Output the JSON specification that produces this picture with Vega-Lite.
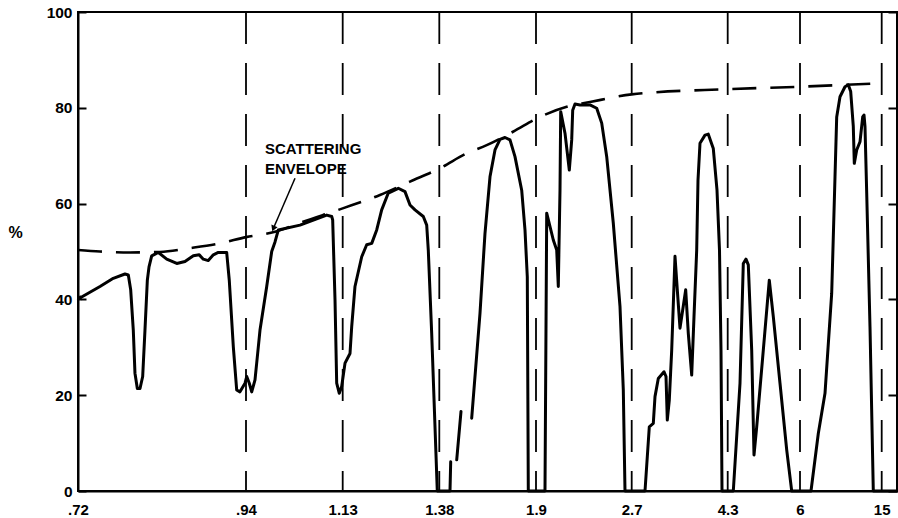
{
  "$schema": "https://vega.github.io/schema/vega-lite/v6.json",
  "width": 819,
  "height": 479,
  "autosize": {"type": "none"},
  "padding": {"left": 78, "top": 12, "right": 1, "bottom": 27},
  "background": "white",
  "config": {
    "view": {"stroke": "black", "strokeWidth": 2},
    "font": "Liberation Sans",
    "axis": {"labelFont": "Liberation Sans", "labelFontWeight": "bold", "labelColor": "black", "domainColor": "black", "domainWidth": 2, "tickColor": "black", "tickWidth": 2, "grid": false, "titleColor": "black"}
  },
  "datasets": {
    "curve": [
      {"lam": 0.7213, "pct": 40.2, "seg": "a"},
      {"lam": 0.7488, "pct": 42.7, "seg": "a"},
      {"lam": 0.7662, "pct": 44.4, "seg": "a"},
      {"lam": 0.7815, "pct": 45.3, "seg": "a"},
      {"lam": 0.7859, "pct": 45.1, "seg": "a"},
      {"lam": 0.789, "pct": 42.0, "seg": "a"},
      {"lam": 0.7924, "pct": 33.6, "seg": "a"},
      {"lam": 0.7946, "pct": 24.6, "seg": "a"},
      {"lam": 0.7977, "pct": 21.4, "seg": "a"},
      {"lam": 0.8012, "pct": 21.4, "seg": "a"},
      {"lam": 0.8047, "pct": 23.9, "seg": "a"},
      {"lam": 0.8077, "pct": 33.6, "seg": "a"},
      {"lam": 0.8108, "pct": 44.0, "seg": "a"},
      {"lam": 0.813, "pct": 46.8, "seg": "a"},
      {"lam": 0.8165, "pct": 49.1, "seg": "a"},
      {"lam": 0.8252, "pct": 49.8, "seg": "a"},
      {"lam": 0.8362, "pct": 48.4, "seg": "a"},
      {"lam": 0.8493, "pct": 47.5, "seg": "a"},
      {"lam": 0.8601, "pct": 47.9, "seg": "a"},
      {"lam": 0.871, "pct": 49.1, "seg": "a"},
      {"lam": 0.8788, "pct": 49.3, "seg": "a"},
      {"lam": 0.8841, "pct": 48.4, "seg": "a"},
      {"lam": 0.8906, "pct": 48.1, "seg": "a"},
      {"lam": 0.8972, "pct": 49.3, "seg": "a"},
      {"lam": 0.9037, "pct": 49.8, "seg": "a"},
      {"lam": 0.9147, "pct": 49.8, "seg": "a"},
      {"lam": 0.9181, "pct": 44.0, "seg": "a"},
      {"lam": 0.9234, "pct": 30.1, "seg": "a"},
      {"lam": 0.9278, "pct": 21.1, "seg": "a"},
      {"lam": 0.9321, "pct": 20.7, "seg": "a"},
      {"lam": 0.9387, "pct": 22.5, "seg": "a"},
      {"lam": 0.9414, "pct": 23.9, "seg": "a"},
      {"lam": 0.9465, "pct": 22.5, "seg": "a"},
      {"lam": 0.9512, "pct": 20.7, "seg": "a"},
      {"lam": 0.9577, "pct": 23.2, "seg": "a"},
      {"lam": 0.9675, "pct": 33.6, "seg": "a"},
      {"lam": 0.9807, "pct": 42.7, "seg": "a"},
      {"lam": 0.9905, "pct": 50.0, "seg": "a"},
      {"lam": 0.997, "pct": 52.0, "seg": "a"},
      {"lam": 1.0035, "pct": 54.5, "seg": "a"},
      {"lam": 1.0461, "pct": 55.5, "seg": "a"},
      {"lam": 1.0986, "pct": 57.6, "seg": "a"},
      {"lam": 1.1084, "pct": 57.3, "seg": "a"},
      {"lam": 1.1103, "pct": 56.6, "seg": "a"},
      {"lam": 1.1149, "pct": 39.9, "seg": "a"},
      {"lam": 1.1182, "pct": 22.5, "seg": "a"},
      {"lam": 1.1233, "pct": 20.4, "seg": "a"},
      {"lam": 1.128, "pct": 21.8, "seg": "a"},
      {"lam": 1.136, "pct": 26.7, "seg": "a"},
      {"lam": 1.1489, "pct": 28.7, "seg": "a"},
      {"lam": 1.1533, "pct": 34.3, "seg": "a"},
      {"lam": 1.1618, "pct": 42.7, "seg": "a"},
      {"lam": 1.1792, "pct": 48.9, "seg": "a"},
      {"lam": 1.1921, "pct": 51.4, "seg": "a"},
      {"lam": 1.2051, "pct": 51.7, "seg": "a"},
      {"lam": 1.218, "pct": 54.5, "seg": "a"},
      {"lam": 1.2309, "pct": 58.7, "seg": "a"},
      {"lam": 1.248, "pct": 62.2, "seg": "a"},
      {"lam": 1.2739, "pct": 63.2, "seg": "a"},
      {"lam": 1.2912, "pct": 62.5, "seg": "a"},
      {"lam": 1.3042, "pct": 59.7, "seg": "a"},
      {"lam": 1.3171, "pct": 58.7, "seg": "a"},
      {"lam": 1.3386, "pct": 57.3, "seg": "a"},
      {"lam": 1.3474, "pct": 55.5, "seg": "a"},
      {"lam": 1.3515, "pct": 50.3, "seg": "a"},
      {"lam": 1.3603, "pct": 32.9, "seg": "a"},
      {"lam": 1.3748, "pct": 0, "seg": "a"},
      {"lam": 1.4375, "pct": 0, "seg": "a"},
      {"lam": 1.4413, "pct": 6.1, "seg": "a"},
      {"lam": 1.4736, "pct": 6.5, "seg": "b"},
      {"lam": 1.4967, "pct": 16.6, "seg": "b"},
      {"lam": 1.5542, "pct": 15.2, "seg": "c"},
      {"lam": 1.5988, "pct": 37.1, "seg": "c"},
      {"lam": 1.6257, "pct": 53.8, "seg": "c"},
      {"lam": 1.6526, "pct": 65.6, "seg": "c"},
      {"lam": 1.6795, "pct": 71.2, "seg": "c"},
      {"lam": 1.7064, "pct": 73.4, "seg": "c"},
      {"lam": 1.7333, "pct": 73.8, "seg": "c"},
      {"lam": 1.7602, "pct": 73.3, "seg": "c"},
      {"lam": 1.787, "pct": 69.8, "seg": "c"},
      {"lam": 1.8231, "pct": 62.8, "seg": "c"},
      {"lam": 1.8408, "pct": 54.5, "seg": "c"},
      {"lam": 1.8532, "pct": 44.7, "seg": "c"},
      {"lam": 1.8586, "pct": 0, "seg": "c"},
      {"lam": 1.9752, "pct": 0, "seg": "c"},
      {"lam": 1.9895, "pct": 58.0, "seg": "c"},
      {"lam": 2.0446, "pct": 52.4, "seg": "c"},
      {"lam": 2.0731, "pct": 50.3, "seg": "c"},
      {"lam": 2.0864, "pct": 42.7, "seg": "c"},
      {"lam": 2.1006, "pct": 62.8, "seg": "c"},
      {"lam": 2.1065, "pct": 79.2, "seg": "c"},
      {"lam": 2.1424, "pct": 74.7, "seg": "c"},
      {"lam": 2.1784, "pct": 67.0, "seg": "c"},
      {"lam": 2.1985, "pct": 73.3, "seg": "c"},
      {"lam": 2.2068, "pct": 79.5, "seg": "c"},
      {"lam": 2.226, "pct": 80.8, "seg": "c"},
      {"lam": 2.2678, "pct": 80.6, "seg": "c"},
      {"lam": 2.3514, "pct": 80.6, "seg": "c"},
      {"lam": 2.4075, "pct": 79.9, "seg": "c"},
      {"lam": 2.4493, "pct": 76.8, "seg": "c"},
      {"lam": 2.4911, "pct": 69.8, "seg": "c"},
      {"lam": 2.5462, "pct": 55.9, "seg": "c"},
      {"lam": 2.6022, "pct": 38.5, "seg": "c"},
      {"lam": 2.6298, "pct": 21.1, "seg": "c"},
      {"lam": 2.644, "pct": 0, "seg": "c"},
      {"lam": 2.9217, "pct": 0, "seg": "c"},
      {"lam": 2.9933, "pct": 13.4, "seg": "c"},
      {"lam": 3.06, "pct": 14.1, "seg": "c"},
      {"lam": 3.0883, "pct": 19.7, "seg": "c"},
      {"lam": 3.1433, "pct": 23.5, "seg": "c"},
      {"lam": 3.2383, "pct": 24.9, "seg": "c"},
      {"lam": 3.2717, "pct": 23.9, "seg": "c"},
      {"lam": 3.2933, "pct": 14.8, "seg": "c"},
      {"lam": 3.3267, "pct": 19.0, "seg": "c"},
      {"lam": 3.3667, "pct": 29.4, "seg": "c"},
      {"lam": 3.4217, "pct": 49.0, "seg": "c"},
      {"lam": 3.46, "pct": 42.0, "seg": "c"},
      {"lam": 3.505, "pct": 34.0, "seg": "c"},
      {"lam": 3.55, "pct": 37.8, "seg": "c"},
      {"lam": 3.6, "pct": 42.0, "seg": "c"},
      {"lam": 3.6433, "pct": 32.9, "seg": "c"},
      {"lam": 3.7, "pct": 24.2, "seg": "c"},
      {"lam": 3.7383, "pct": 36.4, "seg": "c"},
      {"lam": 3.7833, "pct": 50.3, "seg": "c"},
      {"lam": 3.805, "pct": 64.9, "seg": "c"},
      {"lam": 3.8383, "pct": 72.6, "seg": "c"},
      {"lam": 3.9217, "pct": 74.3, "seg": "c"},
      {"lam": 3.9767, "pct": 74.5, "seg": "c"},
      {"lam": 4.06, "pct": 71.5, "seg": "c"},
      {"lam": 4.1217, "pct": 62.8, "seg": "c"},
      {"lam": 4.1633, "pct": 50.3, "seg": "c"},
      {"lam": 4.1883, "pct": 29.4, "seg": "c"},
      {"lam": 4.205, "pct": 0, "seg": "c"},
      {"lam": 4.4317, "pct": 0, "seg": "c"},
      {"lam": 4.5892, "pct": 22.5, "seg": "c"},
      {"lam": 4.6668, "pct": 47.5, "seg": "c"},
      {"lam": 4.7303, "pct": 48.4, "seg": "c"},
      {"lam": 4.7844, "pct": 47.2, "seg": "c"},
      {"lam": 4.8643, "pct": 29.4, "seg": "c"},
      {"lam": 4.9184, "pct": 7.5, "seg": "c"},
      {"lam": 4.9819, "pct": 13.4, "seg": "c"},
      {"lam": 5.1371, "pct": 29.4, "seg": "c"},
      {"lam": 5.2781, "pct": 44.0, "seg": "c"},
      {"lam": 5.3722, "pct": 36.4, "seg": "c"},
      {"lam": 5.5297, "pct": 22.5, "seg": "c"},
      {"lam": 5.6873, "pct": 8.6, "seg": "c"},
      {"lam": 5.8048, "pct": 0, "seg": "c"},
      {"lam": 7.2118, "pct": 0, "seg": "c"},
      {"lam": 8.016, "pct": 12.0, "seg": "c"},
      {"lam": 8.754, "pct": 20.4, "seg": "c"},
      {"lam": 9.492, "pct": 41.3, "seg": "c"},
      {"lam": 9.856, "pct": 65.6, "seg": "c"},
      {"lam": 10.043, "pct": 78.1, "seg": "c"},
      {"lam": 10.406, "pct": 82.3, "seg": "c"},
      {"lam": 10.957, "pct": 84.4, "seg": "c"},
      {"lam": 11.321, "pct": 84.8, "seg": "c"},
      {"lam": 11.585, "pct": 83.4, "seg": "c"},
      {"lam": 11.871, "pct": 76.1, "seg": "c"},
      {"lam": 11.982, "pct": 68.4, "seg": "c"},
      {"lam": 12.246, "pct": 71.2, "seg": "c"},
      {"lam": 12.61, "pct": 72.9, "seg": "c"},
      {"lam": 12.907, "pct": 78.1, "seg": "c"},
      {"lam": 13.05, "pct": 78.5, "seg": "c"},
      {"lam": 13.16, "pct": 76.1, "seg": "c"},
      {"lam": 13.348, "pct": 62.2, "seg": "c"},
      {"lam": 13.711, "pct": 34.3, "seg": "c"},
      {"lam": 14.075, "pct": 0, "seg": "c"},
      {"lam": 16.7, "pct": 0, "seg": "c"}
    ],
    "envelope": [
      {"lam": 0.72, "pct": 50.3},
      {"lam": 0.7488, "pct": 50.0},
      {"lam": 0.7881, "pct": 49.8},
      {"lam": 0.8274, "pct": 49.9},
      {"lam": 0.8667, "pct": 50.7},
      {"lam": 0.906, "pct": 51.7},
      {"lam": 0.94, "pct": 53.0},
      {"lam": 0.997, "pct": 54.1},
      {"lam": 1.0461, "pct": 56.0},
      {"lam": 1.13, "pct": 59.0},
      {"lam": 1.2265, "pct": 61.8},
      {"lam": 1.3042, "pct": 64.6},
      {"lam": 1.3838, "pct": 67.4},
      {"lam": 1.5273, "pct": 70.5},
      {"lam": 1.6349, "pct": 72.2},
      {"lam": 1.7763, "pct": 75.0},
      {"lam": 1.9334, "pct": 78.1},
      {"lam": 2.1567, "pct": 80.2},
      {"lam": 2.3514, "pct": 81.2},
      {"lam": 2.7, "pct": 82.8},
      {"lam": 4.3, "pct": 83.9},
      {"lam": 6, "pct": 84.4},
      {"lam": 14.48, "pct": 85.1}
    ],
    "marks": [
      {"lam": 0.94}, {"lam": 1.13}, {"lam": 1.38}, {"lam": 1.9},
      {"lam": 2.7}, {"lam": 4.3}, {"lam": 6}, {"lam": 15}
    ],
    "labels": [
      {"lam": 0.9773, "pct": 71.5, "text": "SCATTERING"},
      {"lam": 0.9773, "pct": 67.3, "text": "ENVELOPE"}
    ],
    "pointer": [
      {"lam": 1.0363, "pct": 65.3, "lam2": 0.9937, "pct2": 54.8}
    ],
    "start": [
      {"lam": 0.7213, "pct": 40.2}
    ]
  },
  "resolve": {"axis": {"y": "independent"}},
  "layer": [
    {
      "data": {"name": "curve"},
      "mark": {"type": "line", "color": "black", "strokeWidth": 3, "interpolate": "linear", "strokeJoin": "round", "strokeCap": "round"},
      "encoding": {
        "x": {
          "field": "lam", "type": "quantitative", "title": null,
          "scale": {"domain": [0.72, 0.94, 1.13, 1.38, 1.9, 2.7, 4.3, 6, 15, 16.7], "range": [0, 168, 264.7, 361.3, 458, 553.7, 649.7, 722, 803.7, 819], "nice": false, "zero": false},
          "axis": {"values": [0.72, 0.94, 1.13, 1.38, 1.9, 2.7, 4.3, 6, 15], "ticks": false, "labelPadding": 11, "labelFontSize": 15, "labelExpr": "datum.value < 1 ? '.' + substring(toString(datum.value), 2) : toString(datum.value)", "labelFlush": false, "labelOverlap": false}
        },
        "y": {
          "field": "pct", "type": "quantitative",
          "scale": {"domain": [0, 100], "nice": false, "zero": false},
          "axis": {"orient": "left", "values": [0, 20, 40, 60, 80, 100], "tickSize": -8, "labelPadding": 14, "labelFontSize": 15.5, "title": "%", "titleAngle": 0, "titleX": -63, "titleY": 220, "titleFontSize": 16, "titleFontWeight": "bold", "titleAlign": "center", "titleBaseline": "middle"}
        },
        "detail": {"field": "seg"}
      }
    },
    {
      "data": {"name": "envelope"},
      "mark": {"type": "line", "color": "black", "strokeWidth": 2.6, "strokeDash": [24, 14], "interpolate": "monotone"},
      "encoding": {
        "x": {"field": "lam", "type": "quantitative", "title": null},
        "y": {
          "field": "pct", "type": "quantitative",
          "axis": {"orient": "right", "values": [0, 20, 40, 60, 80, 100], "tickSize": -9, "labels": false, "title": null}
        }
      }
    },
    {
      "data": {"name": "marks"},
      "mark": {"type": "rule", "color": "black", "strokeWidth": 1.8, "strokeDash": [32, 19]},
      "encoding": {
        "x": {"field": "lam", "type": "quantitative", "title": null}
      }
    },
    {
      "data": {"name": "labels"},
      "mark": {"type": "text", "align": "left", "baseline": "middle", "font": "Liberation Sans", "fontWeight": "bold", "fontSize": 15, "color": "black"},
      "encoding": {
        "x": {"field": "lam", "type": "quantitative", "title": null},
        "y": {"field": "pct", "type": "quantitative", "axis": null},
        "text": {"field": "text"}
      }
    },
    {
      "data": {"name": "pointer"},
      "mark": {"type": "rule", "color": "black", "strokeWidth": 1.5},
      "encoding": {
        "x": {"field": "lam", "type": "quantitative", "title": null},
        "y": {"field": "pct", "type": "quantitative", "axis": null},
        "x2": {"field": "lam2"},
        "y2": {"field": "pct2"}
      }
    },
    {
      "data": {"name": "pointer"},
      "mark": {"type": "point", "shape": "triangle-down", "filled": true, "color": "black", "size": 45, "angle": 23, "opacity": 1},
      "encoding": {
        "x": {"field": "lam2", "type": "quantitative", "title": null},
        "y": {"field": "pct2", "type": "quantitative", "axis": null}
      }
    },
    {
      "data": {"name": "start"},
      "mark": {"type": "point", "shape": "triangle-left", "filled": true, "color": "black", "size": 30, "angle": -20, "opacity": 1},
      "encoding": {
        "x": {"field": "lam", "type": "quantitative", "title": null},
        "y": {"field": "pct", "type": "quantitative", "axis": null}
      }
    }
  ]
}
